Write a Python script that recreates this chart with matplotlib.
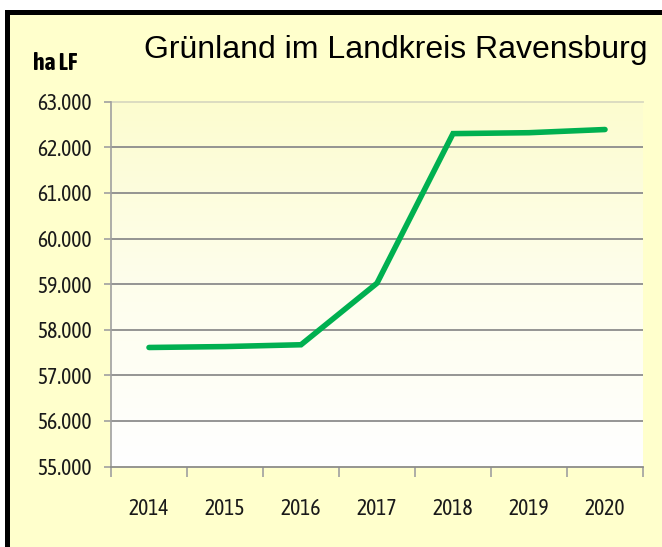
import numpy as np
import matplotlib
matplotlib.use('Agg')
import matplotlib.pyplot as plt
from matplotlib.patches import Rectangle
from matplotlib.colors import LinearSegmentedColormap

years = ['2014', '2015', '2016', '2017', '2018', '2019', '2020']
gruenland_ha = [57610, 57630, 57670, 59020, 62300, 62320, 62390]
y_ticks = [55000, 56000, 57000, 58000, 59000, 60000, 61000, 62000, 63000]
y_labels = ['55.000', '56.000', '57.000', '58.000', '59.000', '60.000',
            '61.000', '62.000', '63.000']

narrow = ['Asap Condensed', 'DejaVu Sans']

fig = plt.figure(figsize=(6.62, 5.47), dpi=100)
fig.patch.set_facecolor('white')

# yellow panel with black border on top / left
W, H = 662.0, 547.0
panel = Rectangle((7 / W, -0.1), 1.2, 1.1 - 12 / H, transform=fig.transFigure,
                  facecolor='#FFFFCC', edgecolor='black', linewidth=3.6, zorder=-5)
fig.patches.append(panel)

ax = fig.add_axes([111 / W, 1 - 466.5 / H, (643 - 111) / W, (466.5 - 101.7) / H])
ax.set_facecolor('none')

# gradient background in plot area
cmap = LinearSegmentedColormap.from_list('bg', ['#FFFFFF', '#FEFEEC', '#FCFCCF'])
grad = np.linspace(0, 1, 256).reshape(-1, 1)
ax.imshow(grad, cmap=cmap, aspect='auto', origin='lower',
          extent=(-0.5, 6.5, 55000, 63000), zorder=0)

x = np.arange(len(years))
ax.plot(x, gruenland_ha, color='#00B050', linewidth=4,
        solid_capstyle='round', solid_joinstyle='miter', zorder=3)

ax.set_xlim(-0.5, 6.5)
ax.set_ylim(55000, 63000)
for yv in y_ticks[1:-1]:
    ax.axhline(yv, color='#8C8C8C', linewidth=1.3, zorder=1)
ax.axhline(63000, color='#D9D9C0', linewidth=1.3, zorder=1, clip_on=False)

for s in ['top', 'right']:
    ax.spines[s].set_visible(False)
ax.spines['left'].set_color('#A0A0A0')
ax.spines['bottom'].set_color('#8C8C8C')
ax.spines['left'].set_linewidth(1.2)
ax.spines['bottom'].set_linewidth(1.3)

ax.set_yticks(y_ticks)
ax.set_yticklabels(y_labels, fontsize=15.5, fontfamily=narrow, color='#1A1A1A')
ax.tick_params(axis='y', length=5, width=1.2, color='#A0A0A0', pad=9)

ax.set_xticks(x)
ax.set_xticklabels(years, fontsize=15.5, fontfamily=narrow, color='#1A1A1A')
ax.set_xticks(np.arange(-0.5, 7.0, 1.0), minor=True)
ax.tick_params(axis='x', which='major', length=0, pad=23)
ax.tick_params(axis='x', which='minor', length=7, width=1.2, color='#A0A0A0')

fig.text(33 / W, 1 - 63 / H, 'ha LF', fontweight='bold', fontfamily=narrow,
         fontsize=17, va='center', ha='left')
fig.text(396 / W, 1 - 50 / H, 'Grünland im Landkreis Ravensburg',
         fontfamily=['Liberation Sans', 'DejaVu Sans'], fontsize=23,
         va='center', ha='center')

fig.savefig('out.png', dpi=100)
